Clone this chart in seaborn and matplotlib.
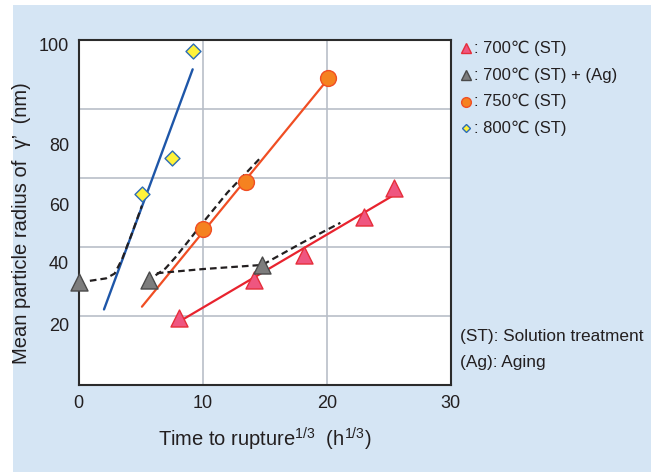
import numpy as np
import pandas as pd
import matplotlib
matplotlib.use("Agg")
import matplotlib.pyplot as plt
from matplotlib.lines import Line2D
from matplotlib.patches import Rectangle
import seaborn as sns

# 700C (ST) points and fitted line
st700_x = [8.1, 14.1, 18.2, 23.0, 25.4]
st700_y = [19.5, 30.4, 37.7, 48.8, 57.0]
st700_fit_x = [8.4, 25.3]
st700_fit_y = [19.0, 54.8]

# 700C (ST) + (Ag) points
ag700_x = [0.0, 5.7, 14.8]
ag700_y = [30.0, 30.4, 34.8]

# 750C (ST) points and fitted line
st750_x = [10.05, 13.5, 20.1]
st750_y = [45.1, 58.9, 88.9]
st750_fit_x = [5.1, 20.0]
st750_fit_y = [22.7, 88.2]

# 800C (ST) points and fitted line
st800_x = [5.1, 7.55, 9.22]
st800_y = [55.3, 65.9, 96.9]
st800_fit_x = [2.04, 9.19]
st800_fit_y = [21.9, 91.5]

# dashed guide curves for the aged material
curve_a_x = [0.9, 2.2, 2.9, 3.5, 4.3, 5.1]
curve_a_y = [30.2, 30.9, 32.3, 36.5, 44.0, 52.0]
curve_b_x = [6.2, 7.0, 7.8, 8.8, 10.0, 12.0, 14.7]
curve_b_y = [31.8, 33.8, 37.0, 41.5, 47.0, 55.8, 66.0]
curve_c_x = [6.3, 10.0, 14.8, 16.5, 18.0, 21.1]
curve_c_y = [32.4, 33.6, 34.8, 38.2, 41.2, 47.0]

x_ticks = [0, 10, 20, 30]
y_grid = [20, 40, 60, 80]
# the original prints its y labels off the grid lines
y_label_pos = [98.6, 69.6, 52.2, 35.4, 17.4]
y_labels = ["100", "80", "60", "40", "20"]

legend_labels = [": 700\u2103 (ST)", ": 700\u2103 (ST) + (Ag)", ": 750\u2103 (ST)", ": 800\u2103 (ST)"]
notes = ["(ST): Solution treatment", "(Ag): Aging"]

sns.set_style("white")
plt.rcParams["font.family"] = ["Liberation Sans", "DejaVu Sans"]
plt.rcParams["mathtext.fontset"] = "custom"
plt.rcParams["mathtext.rm"] = "Liberation Sans"
plt.rcParams["mathtext.default"] = "regular"

txt = "#231f20"
bg = "#d5e5f4"
grid_c = "#b9bfc8"
red = "#e8232e"
orange_line = "#f04e23"
blue = "#1e56a8"

fig = plt.figure(figsize=(6.56, 4.72), dpi=100)
fig.patch.set_facecolor("white")
fig.patches.append(Rectangle((12.6 / 656, 0), (651 - 12.6) / 656, 1 - 5 / 472,
                             transform=fig.transFigure, facecolor=bg, edgecolor="none", zorder=-10))

ax = fig.add_axes([78.7 / 656, 1 - 385 / 472, 372 / 656, 345 / 472])
ax.set_facecolor("white")

def seg(x, y):
    return pd.DataFrame({"x": x, "y": y})

# fitted lines
sns.lineplot(data=seg(st800_fit_x, st800_fit_y), x="x", y="y", sort=False, color=blue, lw=1.7, ax=ax, zorder=3)
sns.lineplot(data=seg(st750_fit_x, st750_fit_y), x="x", y="y", sort=False, color=orange_line, lw=1.6, ax=ax, zorder=3)
sns.lineplot(data=seg(st700_fit_x, st700_fit_y), x="x", y="y", sort=False, color=red, lw=1.6, ax=ax, zorder=3)

# dashed guides
for cx, cy in [(curve_a_x, curve_a_y), (curve_b_x, curve_b_y), (curve_c_x, curve_c_y)]:
    sns.lineplot(data=seg(cx, cy), x="x", y="y", sort=False, color=txt, lw=1.6,
                 linestyle=(0, (3, 1.8)), ax=ax, zorder=4)

# markers
sns.scatterplot(data=seg(st800_x, st800_y), x="x", y="y", marker="D", s=58, color="#fff23a",
                edgecolor="#2d6db5", linewidth=1.0, ax=ax, zorder=6, clip_on=False)
sns.scatterplot(data=seg(st750_x, st750_y), x="x", y="y", marker="o", s=130, color="#f58220",
                edgecolor=orange_line, linewidth=1.0, ax=ax, zorder=6, clip_on=False)
sns.scatterplot(data=seg(st700_x, st700_y), x="x", y="y", marker="^", s=150, color="#ef5680",
                edgecolor="#e62e3a", linewidth=1.0, ax=ax, zorder=6, clip_on=False)
sns.scatterplot(data=seg(ag700_x, ag700_y), x="x", y="y", marker="^", s=150, color="#7d7d7d",
                edgecolor="#4a4a4a", linewidth=1.0, ax=ax, zorder=6, clip_on=False)

ax.set_xlim(0, 30)
ax.set_ylim(0, 100)
ax.set_xticks(x_ticks)
ax.set_xticklabels([str(t) for t in x_ticks])
ax.set_yticks(y_label_pos)
ax.set_yticklabels(y_labels)
ax.set_yticks(y_grid, minor=True)
ax.tick_params(axis="both", which="both", length=0, labelsize=13, colors=txt)
ax.tick_params(axis="x", pad=7)
ax.tick_params(axis="y", pad=7)
ax.xaxis.grid(True, color=grid_c, lw=1.2)
ax.yaxis.grid(True, which="minor", color=grid_c, lw=1.2)
ax.yaxis.grid(False, which="major")
ax.set_axisbelow(True)
for sp in ax.spines.values():
    sp.set_color("#2b2b2b")
    sp.set_linewidth(1.5)

ax.set_xlabel("Time to rupture$^{1/3}$  (h$^{1/3}$)", fontsize=14.5, color=txt, labelpad=10)
ax.set_ylabel("Mean particle radius of  \u03b3\u2019  (nm)", fontsize=14.5, color=txt)
ax.yaxis.set_label_coords(-0.128, 0.47)

# legend drawn by hand to the right of the plot
leg_markers = [
    dict(marker="^", ms=7, mfc="#ef5680", mec="#e62e3a"),
    dict(marker="^", ms=7, mfc="#7d7d7d", mec="#4a4a4a"),
    dict(marker="o", ms=7, mfc="#f58220", mec=orange_line),
    dict(marker="D", ms=4.5, mfc="#fff23a", mec="#2d6db5"),
]
for i, (lab, mk) in enumerate(zip(legend_labels, leg_markers)):
    yy = 1 - (48.3 + 26.7 * i) / 472
    fig.add_artist(Line2D([466 / 656], [yy], transform=fig.transFigure, ls="none", mew=1.0, **mk))
    fig.text(474 / 656, yy, lab, fontsize=12, color=txt, va="center", ha="left")

for i, note in enumerate(notes):
    fig.text(460 / 656, 1 - (337 + 25 * i) / 472, note, fontsize=12.4, color=txt, va="center", ha="left")

fig.savefig("out.png", dpi=100)
